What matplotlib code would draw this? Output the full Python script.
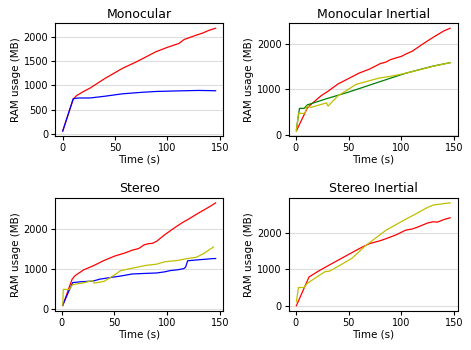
#!/usr/bin/env python3
"""RAM usage over time for the four sensor configurations."""
import matplotlib
matplotlib.use('Agg')
import matplotlib.pyplot as plt
from matplotlib.ticker import MultipleLocator

# Monocular
mono_red_t = [0, 10, 13, 20, 26, 40, 57, 70, 80, 89, 100, 111, 116, 125, 134, 140, 146]
mono_red = [70, 720, 790, 880, 946, 1140, 1350, 1480, 1590, 1690, 1780, 1860, 1940, 2010, 2075, 2130, 2170]
mono_blue_t = [0, 10, 15, 26, 40, 57, 75, 89, 110, 130, 146]
mono_blue = [70, 730, 745, 745, 780, 830, 860, 878, 890, 899, 893]

# Monocular Inertial
mi_red_t = [0.6, 5, 11, 15, 24, 30, 40, 50, 60, 70, 80, 85, 90, 100, 105, 110, 120, 130, 140, 146]
mi_red = [80, 300, 590, 680, 860, 950, 1120, 1240, 1360, 1450, 1570, 1600, 1660, 1730, 1790, 1840, 2000, 2150, 2290, 2350]
mi_green_t = [0.6, 3.5, 8, 11, 14, 30, 50, 70, 90, 104, 120, 130, 146]
mi_green = [110, 580, 580, 660, 680, 800, 940, 1095, 1250, 1356, 1455, 1515, 1590]
mi_yellow_t = [0.6, 2.5, 8.6, 11, 14, 29, 30.5, 40, 47, 57, 68, 79, 90, 104, 120, 130, 146]
mi_yellow = [80, 470, 470, 640, 600, 700, 630, 860, 960, 1110, 1180, 1250, 1290, 1356, 1450, 1510, 1590]

# Stereo
st_red_t = [1, 8, 10, 13, 21, 30, 40, 50, 60, 67, 73, 78, 82, 86, 90, 98, 106, 114, 120, 130, 140, 146]
st_red = [74, 600, 740, 830, 970, 1070, 1200, 1310, 1390, 1460, 1500, 1590, 1620, 1630, 1680, 1850, 2000, 2140, 2230, 2390, 2540, 2640]
st_blue_t = [1, 10.4, 18, 30, 36, 47, 55, 67, 80, 90, 98, 103, 110, 116, 117.6, 119.5, 130, 144, 146]
st_blue = [90, 650, 670, 690, 735, 780, 810, 865, 880, 890, 920, 950, 970, 1000, 1040, 1195, 1220, 1250, 1250]
st_yellow_t = [1, 1.5, 7.2, 10.4, 20, 29.2, 30.8, 40, 45, 50, 56, 67, 80, 90, 98, 109, 117, 128, 135, 144]
st_yellow = [90, 480, 480, 600, 640, 700, 637, 680, 757, 840, 950, 1010, 1080, 1110, 1170, 1200, 1240, 1285, 1380, 1540]

# Stereo Inertial
si_red_t = [0.7, 12.6, 22, 30, 40, 50, 63, 70, 80, 85, 95, 104, 110, 115, 125, 130, 134, 140, 146]
si_red = [0, 790, 960, 1090, 1250, 1410, 1615, 1710, 1790, 1840, 1950, 2080, 2110, 2160, 2280, 2310, 2300, 2370, 2420]
si_yellow_t = [0.7, 2.6, 8, 10.8, 20, 28, 32, 40, 53, 66, 85, 104, 115, 125, 130, 140, 146]
si_yellow = [110, 500, 500, 610, 790, 940, 950, 1080, 1300, 1650, 2070, 2380, 2550, 2710, 2770, 2810, 2830]

# (title, y tick step, series)
panels = [
    ('Monocular', 500, [(mono_red_t, mono_red, 'r'), (mono_blue_t, mono_blue, 'b')]),
    ('Monocular Inertial', 1000, [(mi_red_t, mi_red, 'r'), (mi_green_t, mi_green, 'g'), (mi_yellow_t, mi_yellow, 'y')]),
    ('Stereo', 1000, [(st_red_t, st_red, 'r'), (st_blue_t, st_blue, 'b'), (st_yellow_t, st_yellow, 'y')]),
    ('Stereo Inertial', 1000, [(si_red_t, si_red, 'r'), (si_yellow_t, si_yellow, 'y')]),
]

# axes rectangles (left, bottom, width, height) in figure fraction
rects = [
    [0.117, 0.611, 0.357, 0.323],
    [0.613, 0.611, 0.359, 0.323],
    [0.117, 0.112, 0.357, 0.323],
    [0.613, 0.112, 0.359, 0.323],
]

fig = plt.figure(figsize=(4.71, 3.5), dpi=100)
for (title, ystep, series), rect in zip(panels, rects):
    ax = fig.add_axes(rect)
    for t, v, c in series:
        ax.plot(t, v, color=c, linewidth=0.9)
    ax.set_title(title, fontsize=9, pad=4)
    ax.set_xlabel('Time (s)', fontsize=7.5, labelpad=1)
    ax.set_ylabel('RAM usage (MB)', fontsize=7.5, labelpad=2)
    ax.tick_params(labelsize=7, length=3, pad=2)
    ax.set_xticks([0, 50, 100, 150])
    ax.yaxis.set_major_locator(MultipleLocator(ystep))
    ax.yaxis.grid(True, color='#dddddd', linewidth=0.8)
    ax.set_axisbelow(True)

fig.savefig('out.png', dpi=100)
